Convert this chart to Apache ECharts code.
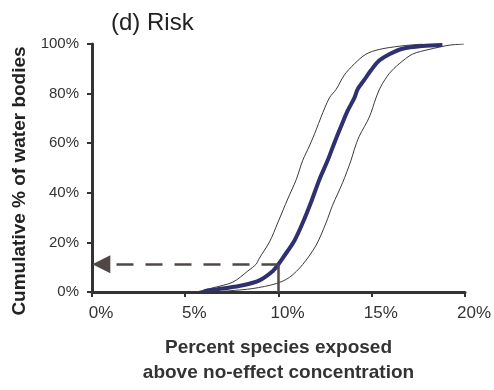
<!DOCTYPE html>
<html>
<head>
<meta charset="utf-8">
<script src="https://cdn.jsdelivr.net/npm/echarts@6/dist/echarts.min.js"></script>
<style>
  html, body { margin: 0; padding: 0; background: #fff; }
  #chart { width: 494px; height: 390px; }
</style>
</head>
<body>
<div id="chart"></div>
<script>
// x: percent species exposed, y: cumulative % of water bodies
const riskMid = [
  [6.0, 0], [6.13, 0.5], [7.02, 1.4], [8.09, 2.7], [8.98, 4.7], [9.7, 8.5],
  [10.0, 11.2], [10.23, 13.7], [10.86, 20.8], [11.3, 27.9], [11.75, 36.3],
  [12.19, 45.3], [12.64, 53.1], [13.0, 60.2], [13.35, 66.7], [13.71, 73.1],
  [14.07, 78.3], [14.24, 81.7], [14.6, 85.5], [14.96, 89.4], [15.4, 93.3],
  [15.94, 95.9], [16.65, 98.1], [17.72, 99.2], [18.79, 99.6]
]
const riskLow = [
  [5.6, 0], [6.49, 1.7], [7.56, 4.0], [8.36, 8.5], [8.8, 11.2], [8.98, 13.7],
  [9.52, 20.2], [9.96, 27.9], [10.5, 37.6], [10.95, 45.3], [11.3, 53.1],
  [11.66, 58.9], [12.02, 65.4], [12.28, 70.5], [12.73, 78.3], [13.09, 81.7],
  [13.53, 87.5], [14.07, 92.0], [14.69, 95.9], [15.4, 97.8], [16.47, 99.1],
  [17.72, 100]
]
const riskHigh = [
  [6.5, 0], [7.38, 0.5], [8.63, 1.4], [9.88, 3.4], [10.59, 5.9], [11.3, 11.1],
  [12.02, 18.9], [12.55, 27.9], [12.9, 35.0], [13.44, 44.1], [13.89, 53.1],
  [14.07, 57.6], [14.33, 62.8], [14.87, 70.5], [15.23, 78.3], [15.49, 82.9],
  [15.94, 88.1], [16.47, 92.0], [17.18, 95.9], [18.07, 97.8], [19.14, 99.5],
  [19.94, 100]
]
// reading of the risk at 10% species exposed
const readX = 10
const readY = 11.2

const chart = echarts.init(document.getElementById('chart'))

const thin = { color: '#3a3a3a', width: 1 }

chart.setOption({
  animation: false,
  textStyle: { fontFamily: 'Liberation Sans, Arial, sans-serif' },
  title: {
    text: '(d) Risk',
    left: 106,
    top: 6,
    textStyle: { fontSize: 24, fontWeight: 'normal', color: '#222' }
  },
  grid: { left: 92, top: 44, width: 374, height: 258, containLabel: false },
  xAxis: {
    type: 'value',
    min: 0,
    max: 20,
    interval: 5,
    name: 'Percent species exposed\nabove no-effect concentration',
    nameLocation: 'middle',
    nameGap: 43,
    nameTextStyle: { fontSize: 19, fontWeight: 'bold', color: '#333', lineHeight: 25 },
    axisLine: { lineStyle: { color: '#333', width: 3 } },
    axisTick: { length: 5, lineStyle: { color: '#333', width: 2 } },
    axisLabel: {
      formatter: '{value}%',
      fontSize: 17,
      color: '#333',
      margin: 13,
      padding: [0, 0, 0, 18]
    },
    splitLine: { show: false }
  },
  yAxis: {
    type: 'value',
    min: 0,
    max: 100,
    interval: 20,
    name: 'Cumulative % of water bodies',
    nameLocation: 'middle',
    nameGap: 62,
    nameTextStyle: { fontSize: 19, fontWeight: 'bold', color: '#222', padding: [0, 26, 0, 0] },
    axisLine: { show: true, lineStyle: { color: '#333', width: 3 } },
    axisTick: { show: true, length: 5, lineStyle: { color: '#333', width: 2 } },
    axisLabel: { formatter: '{value}%', fontSize: 15, color: '#333', margin: 13 },
    splitLine: { show: false }
  },
  series: [
    {
      type: 'line',
      data: riskLow,
      showSymbol: false,
      smooth: 0.3,
      lineStyle: thin
    },
    {
      type: 'line',
      data: riskHigh,
      showSymbol: false,
      smooth: 0.3,
      lineStyle: thin
    },
    {
      type: 'line',
      data: riskMid,
      showSymbol: false,
      smooth: 0.3,
      lineStyle: { color: '#2e3070', width: 4 },
      markLine: {
        silent: true,
        symbol: 'none',
        symbolSize: 18,
        label: { show: false },
        data: [
          [
            { coord: [readX, readY], symbol: 'none' },
            { coord: [0.5, readY], symbol: 'triangle', symbolSize: 18 }
          ],
          [
            { coord: [readX, readY], symbol: 'none' },
            { coord: [readX, 0], symbol: 'none', lineStyle: { type: 'solid' } }
          ]
        ],
        lineStyle: { color: '#4f4844', width: 2.5, type: [17, 12] },
        itemStyle: { color: '#333' }
      }
    }
  ]
})
</script>
</body>
</html>
